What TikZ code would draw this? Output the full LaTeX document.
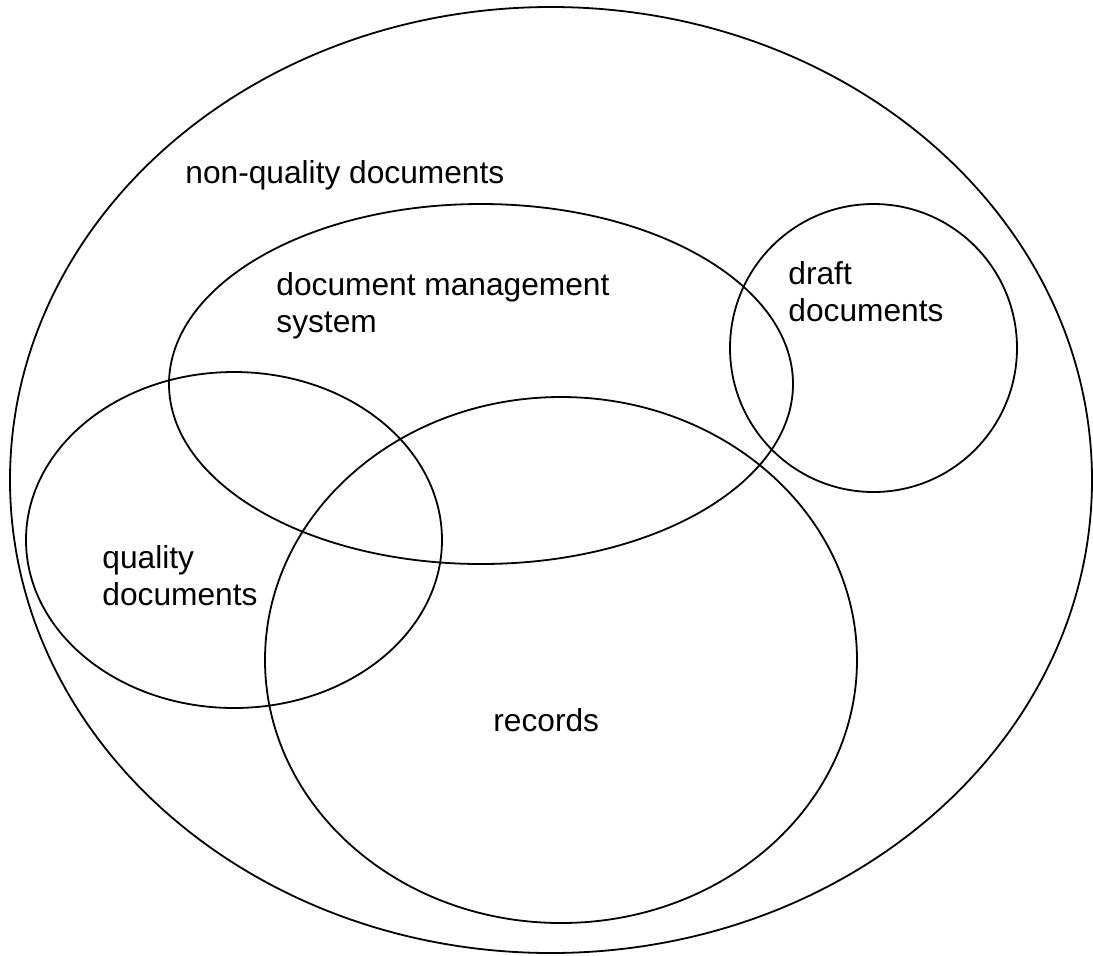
\documentclass[tikz,border=0pt]{standalone}
\usepackage{fontspec}
\setmainfont{Liberation Sans}
\begin{document}
\begin{tikzpicture}[x=0.5pt,y=-0.5pt]
    \tikzstyle{set}=[draw=black,line width=0.9pt]
    \tikzstyle{lbl}=[anchor=base west,inner sep=0pt,align=left,font=\fontsize{15.85}{18.5}\selectfont]

    \useasboundingbox (0,0) rectangle (1093,955);

    % sets
    \draw[set] (551,480) ellipse [x radius=270.5pt,y radius=236.5pt];
    \draw[set] (481,384) ellipse [x radius=156pt,y radius=90pt];
    \draw[set] (873.5,348) ellipse [x radius=71.75pt,y radius=72pt];
    \draw[set] (234,540) ellipse [x radius=104pt,y radius=84pt];
    \draw[set] (561,660) ellipse [x radius=148pt,y radius=131.5pt];

    % labels (base = last line)
    \node[lbl] (nonq) at (185,183) {non-quality documents};
    \node[lbl] (dms) at (276,332) {document management\\system};
    \node[lbl] (draft) at (788,321) {draft\\documents};
    \node[lbl] (qual) at (102,605) {quality\\documents};
    \node[lbl] (rec) at (493,731) {records};
\end{tikzpicture}
\end{document}
